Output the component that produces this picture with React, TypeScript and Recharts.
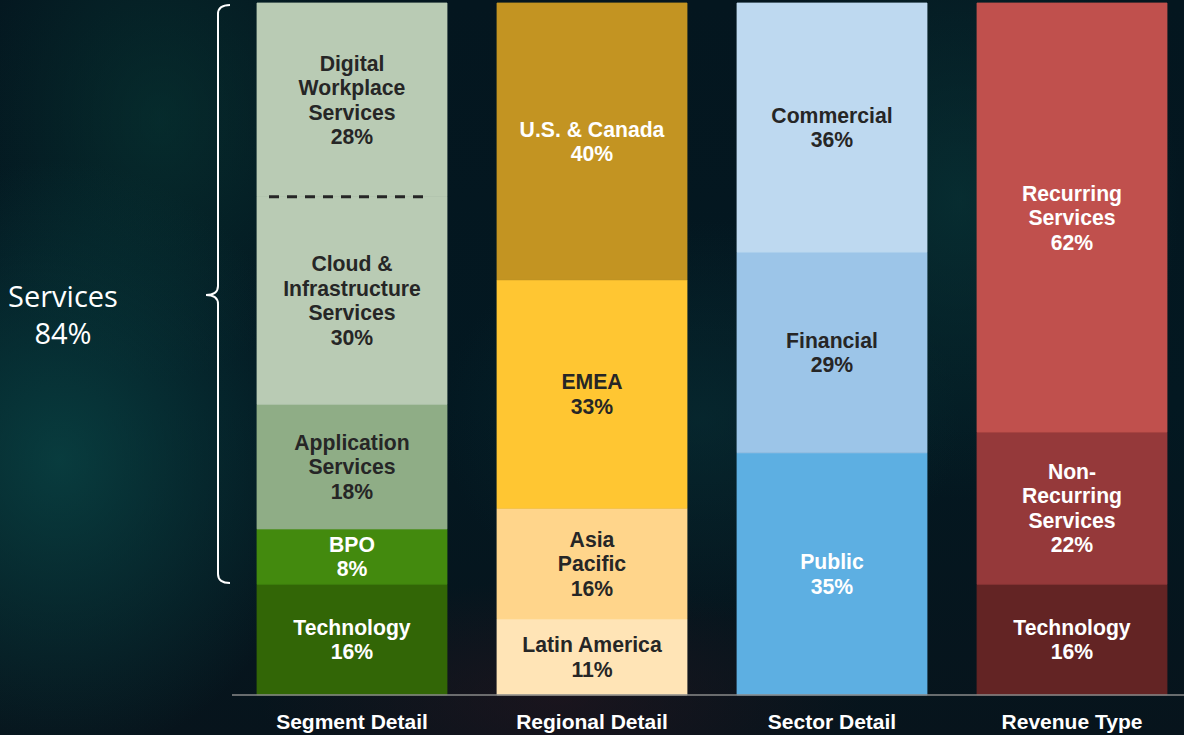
import React from 'react';
import { BarChart, Bar, XAxis, YAxis, LabelList, Rectangle } from 'recharts';

const categories = ['Segment Detail', 'Regional Detail', 'Sector Detail', 'Revenue Type'];

const segmentLabels = ['Technology', 'BPO', 'Application\nServices', 'Cloud &\nInfrastructure\nServices', 'Digital\nWorkplace\nServices'];
const segmentValues = [16, 8, 18, 30, 28];
const segmentColors = ['#326606', '#438A0E', '#8FAD86', '#B9CBB4', '#B9CBB4'];
const segmentText = ['#FFFFFF', '#FFFFFF', '#262626', '#262626', '#262626'];

const regionLabels = ['Latin America', 'Asia\nPacific', 'EMEA', 'U.S. & Canada'];
const regionValues = [11, 16, 33, 40];
const regionColors = ['#FFE4B6', '#FFD58B', '#FFC632', '#C39422'];
const regionText = ['#262626', '#262626', '#262626', '#FFFFFF'];

const sectorLabels = ['Public', 'Financial', 'Commercial'];
const sectorValues = [35, 29, 36];
const sectorColors = ['#5DAFE2', '#9CC5E8', '#BED9F0'];
const sectorText = ['#FFFFFF', '#262626', '#262626'];

const revenueLabels = ['Technology', 'Non-\nRecurring\nServices', 'Recurring\nServices'];
const revenueValues = [16, 22, 62];
const revenueColors = ['#632424', '#95393A', '#C0504D'];
const revenueText = ['#FFFFFF', '#FFFFFF', '#FFFFFF'];

const yTicks = [0, 100];

type Series = { key: string; cat: number; value: number; label: string; fill: string; text: string; dashedBottom?: boolean };

const groups = [
  { labels: segmentLabels, values: segmentValues, colors: segmentColors, text: segmentText, prefix: 'seg' },
  { labels: regionLabels, values: regionValues, colors: regionColors, text: regionText, prefix: 'reg' },
  { labels: sectorLabels, values: sectorValues, colors: sectorColors, text: sectorText, prefix: 'sec' },
  { labels: revenueLabels, values: revenueValues, colors: revenueColors, text: revenueText, prefix: 'rev' },
];

const series: Series[] = [];
groups.forEach((g, ci) => {
  g.labels.forEach((l, i) => {
    series.push({
      key: `${g.prefix}${i}`,
      cat: ci,
      value: g.values[i],
      label: l,
      fill: g.colors[i],
      text: g.text[i],
      dashedBottom: g.prefix === 'seg' && i === 4,
    });
  });
});

const data = categories.map((c, ci) => {
  const row: Record<string, any> = { category: c };
  series.filter((s) => s.cat === ci).forEach((s) => {
    row[s.key] = s.value;
  });
  return row;
});

const FONT = '"Liberation Sans", Arial, Helvetica, sans-serif';

const makeLabel = (s: Series) => (props: any) => {
  const { x, y, width, height, value } = props;
  if (value === undefined || value === null || !height) return null;
  const lines = [...s.label.split('\n'), `${value}%`];
  const lh = 24.5;
  const cx = Number(x) + Number(width) / 2;
  const cy = Number(y) + Number(height) / 2;
  const start = cy - ((lines.length - 1) * lh) / 2 + 7.5;
  return (
    <text x={cx} textAnchor="middle" fill={s.text} fontFamily={FONT} fontWeight={700} fontSize={21.2}>
      {lines.map((ln, i) => (
        <tspan key={i} x={cx} y={start + i * lh}>
          {ln}
        </tspan>
      ))}
    </text>
  );
};

const makeShape = (s: Series) => (props: any) => {
  const { x, y, width, height } = props;
  if (!height) return null;
  return (
    <g>
      <Rectangle x={x} y={y} width={width} height={height} fill={s.fill} stroke={s.fill} strokeWidth={0.8} />
      {s.dashedBottom ? (
        <line
          x1={x + 12}
          x2={x + width - 18}
          y1={y + height}
          y2={y + height}
          stroke="#262626"
          strokeWidth={3}
          strokeDasharray="10 8"
        />
      ) : null}
    </g>
  );
};

const AxisTick = (props: any) => {
  const { x, y, payload } = props;
  return (
    <text x={x} y={y + 32} textAnchor="middle" fill="#FFFFFF" fontFamily={FONT} fontWeight={700} fontSize={21}>
      {payload.value}
    </text>
  );
};

export default function App() {
  return (
    <div
      style={{
        position: 'absolute',
        left: 0,
        top: 0,
        width: 1184,
        height: 735,
        overflow: 'hidden',
        background:
          'radial-gradient(ellipse 260px 300px at 60px 460px, rgba(10,72,72,0.75), rgba(10,72,72,0) 100%),' +
          'radial-gradient(ellipse 200px 260px at 160px 120px, rgba(8,60,55,0.55), rgba(8,60,55,0) 100%),' +
          'radial-gradient(ellipse 220px 300px at 960px 200px, rgba(10,62,62,0.55), rgba(10,62,62,0) 100%),' +
          'radial-gradient(ellipse 260px 200px at 700px 420px, rgba(10,55,60,0.45), rgba(10,55,60,0) 100%),' +
          'radial-gradient(ellipse 300px 120px at 560px 700px, rgba(45,20,30,0.5), rgba(45,20,30,0) 100%),' +
          'linear-gradient(180deg, #04161f 0%, #031821 55%, #07141c 100%)',
      }}
    >
      <BarChart
        width={1192}
        height={735}
        data={data}
        margin={{ top: 3, right: 0, left: 232, bottom: 0 }}
        barSize={190}
      >
        <XAxis
          dataKey="category"
          height={40}
          axisLine={{ stroke: '#8A8A8A', strokeWidth: 1.5 }}
          tickLine={false}
          tickSize={0}
          tick={<AxisTick />}
          interval={0}
        />
        <YAxis hide domain={[0, 100]} ticks={yTicks} />
        {series.map((s) => (
          <Bar key={s.key} dataKey={s.key} stackId="a" fill={s.fill} shape={makeShape(s)} isAnimationActive={false}>
            <LabelList dataKey={s.key} content={makeLabel(s)} />
          </Bar>
        ))}
      </BarChart>
      <svg width={260} height={735} style={{ position: 'absolute', left: 0, top: 0 }}>
        <path
          d="M230,5 Q218,5 218,14 L218,286 Q218,295 206,295 Q218,295 218,304 L218,574 Q218,583 230,583"
          fill="none"
          stroke="#FFFFFF"
          strokeWidth={2}
        />
        <text x={63} y={307} textAnchor="middle" fill="#FFFFFF" fontFamily='"Open Sans", "Noto Sans", sans-serif' fontSize={29}>
          Services
        </text>
        <text x={63} y={344} textAnchor="middle" fill="#FFFFFF" fontFamily='"Open Sans", "Noto Sans", sans-serif' fontSize={29}>
          84%
        </text>
      </svg>
    </div>
  );
}
